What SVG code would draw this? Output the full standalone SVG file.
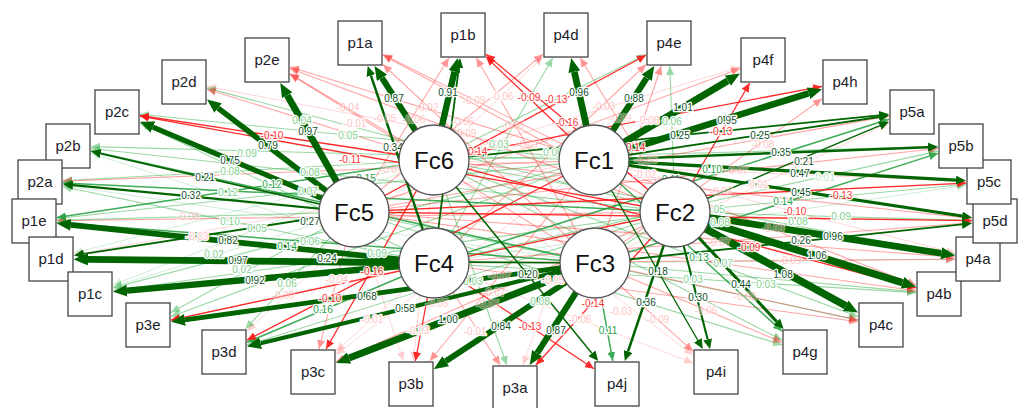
<svg xmlns="http://www.w3.org/2000/svg" width="1018" height="408" viewBox="0 0 1018 408">
<defs>
<marker id="aDk" viewBox="0 -6 14 12" markerWidth="14" markerHeight="12" refX="0" refY="0" orient="auto" markerUnits="userSpaceOnUse"><path d="M0,-6L14,0L0,6z" fill="#006400"/></marker>
<marker id="aDm" viewBox="0 -4.5 10 9" markerWidth="10" markerHeight="9" refX="0" refY="0" orient="auto" markerUnits="userSpaceOnUse"><path d="M0,-4.5L10,0L0,4.5z" fill="#006400"/></marker>
<marker id="aG" viewBox="-9 -4 9 8" markerWidth="9" markerHeight="8" refX="0" refY="0" orient="auto" markerUnits="userSpaceOnUse"><path d="M0,0L-9,-4L-9,4z" fill="#1e9e3a"/></marker>
<marker id="aL" viewBox="-9 -4 9 8" markerWidth="9" markerHeight="8" refX="0" refY="0" orient="auto" markerUnits="userSpaceOnUse"><path d="M0,0L-9,-4L-9,4z" fill="#35b24c"/></marker>
<marker id="aR" viewBox="-9 -4 9 8" markerWidth="9" markerHeight="8" refX="0" refY="0" orient="auto" markerUnits="userSpaceOnUse"><path d="M0,0L-9,-4L-9,4z" fill="#ff1414"/></marker>
</defs>
<style>
line{fill:none}
.tk{stroke:#006400;marker-end:url(#aDk)}
.md{stroke:#006400;marker-end:url(#aDm)}
.g{stroke:#1e9e3a;stroke-width:1.5;opacity:.85;marker-end:url(#aG)}
.lg{stroke:#35b24c;stroke-width:1.1;opacity:.5;marker-end:url(#aL)}
.fg{stroke:#35b24c;stroke-width:1;opacity:.22;marker-end:url(#aL)}
.r{stroke:#ff1414;stroke-width:1.3;opacity:.9;marker-end:url(#aR)}
.p{stroke:#ff3a3a;stroke-width:1.1;opacity:.45;marker-end:url(#aR)}
.fp{stroke:#ff3a3a;stroke-width:1;opacity:.2;marker-end:url(#aR)}
.el text{font-family:"Liberation Sans",Arial,sans-serif;font-size:10px;text-anchor:middle;stroke:#fff;stroke-width:2.6;paint-order:stroke;stroke-linejoin:round}
.el .d{fill:#0f4f2a}
.el .gn{fill:#1f9e45}
.el .l{fill:#7fcf8e}
.el .f{fill:#bfe6c6}
.el .r{fill:#ff2020}
.el .p{fill:#ff8484}
.el .q{fill:#ffc2c2}
.box rect{fill:#fff;stroke:#444;stroke-width:1.3}
.box text{font-family:"Liberation Sans",Arial,sans-serif;font-size:15px;text-anchor:middle;fill:#1c1c28}
.lat circle{fill:#fff;stroke:#555;stroke-width:1.3}
.lat text{font-family:"Liberation Sans",Arial,sans-serif;font-size:24px;text-anchor:middle;fill:#111}
</style>
<rect width="1018" height="408" fill="#fff"/>
<g id="connectors">
<line class="fp" x1="594" y1="160" x2="207" y2="86.4"/>
<line class="fp" x1="434" y1="160" x2="543" y2="56.8"/>
<line class="fp" x1="434" y1="160" x2="740" y2="67"/>
<line class="fp" x1="434" y1="160" x2="966" y2="181.1"/>
<line class="fp" x1="595" y1="263" x2="889" y2="123"/>
<line class="fp" x1="434" y1="160" x2="693" y2="354.7"/>
<line class="fp" x1="434" y1="263" x2="693" y2="363.1"/>
<line class="fp" x1="594" y1="160" x2="955" y2="253.1"/>
<line class="fp" x1="434" y1="160" x2="413.4" y2="361"/>
<line class="fp" x1="594" y1="160" x2="336" y2="354.6"/>
<line class="fp" x1="594" y1="160" x2="523" y2="365"/>
<line class="fp" x1="594" y1="160" x2="74" y2="254.8"/>
<line class="fp" x1="354" y1="212" x2="403.4" y2="361"/>
<line class="fp" x1="434" y1="160" x2="247" y2="331"/>
<line class="fp" x1="434" y1="263" x2="336" y2="351.3"/>
<line class="fg" x1="595" y1="263" x2="63" y2="185.4"/>
<line class="fg" x1="434" y1="263" x2="91" y2="153.4"/>
<line class="fg" x1="434" y1="263" x2="966" y2="185.4"/>
<line class="fg" x1="595" y1="263" x2="955" y2="259.2"/>
<line class="fg" x1="354" y1="212" x2="113" y2="286.9"/>
<line class="fg" x1="434" y1="160" x2="74" y2="253.1"/>
<line class="fg" x1="434" y1="160" x2="113" y2="285"/>
<line class="lg" x1="594" y1="160" x2="91" y2="146.6"/>
<line class="lg" x1="675" y1="212" x2="91" y2="148.5"/>
<line class="lg" x1="434" y1="160" x2="63" y2="180.7"/>
<line class="lg" x1="434" y1="263" x2="140" y2="123"/>
<line class="lg" x1="675" y1="212" x2="207" y2="88.1"/>
<line class="lg" x1="594" y1="160" x2="140" y2="114.3"/>
<line class="lg" x1="434" y1="263" x2="63" y2="186.7"/>
<line class="lg" x1="434" y1="263" x2="552.7" y2="58"/>
<line class="lg" x1="434" y1="160" x2="646" y2="54.5"/>
<line class="lg" x1="675" y1="212" x2="669.8" y2="66"/>
<line class="lg" x1="434" y1="160" x2="938" y2="146.6"/>
<line class="lg" x1="675" y1="212" x2="966" y2="184.2"/>
<line class="lg" x1="675" y1="212" x2="972" y2="220.4"/>
<line class="lg" x1="434" y1="160" x2="955" y2="254.8"/>
<line class="lg" x1="434" y1="160" x2="858" y2="316.5"/>
<line class="lg" x1="354" y1="212" x2="858" y2="320.1"/>
<line class="lg" x1="434" y1="263" x2="916" y2="292.6"/>
<line class="lg" x1="434" y1="263" x2="938" y2="151.1"/>
<line class="lg" x1="354" y1="212" x2="782" y2="344.9"/>
<line class="lg" x1="434" y1="160" x2="782" y2="340.1"/>
<line class="lg" x1="595" y1="263" x2="916" y2="291.9"/>
<line class="lg" x1="434" y1="160" x2="506.8" y2="365"/>
<line class="lg" x1="675" y1="212" x2="434" y2="369"/>
<line class="lg" x1="675" y1="212" x2="247" y2="344.9"/>
<line class="lg" x1="594" y1="160" x2="171" y2="316.5"/>
<line class="lg" x1="354" y1="212" x2="171" y2="312.4"/>
<line class="lg" x1="354" y1="212" x2="57" y2="220.4"/>
<line class="lg" x1="594" y1="160" x2="113" y2="287.9"/>
<line class="lg" x1="594" y1="160" x2="57" y2="218.5"/>
<line class="lg" x1="354" y1="212" x2="245.4" y2="329"/>
<line class="lg" x1="675" y1="212" x2="113" y2="290.8"/>
<line class="p" x1="594" y1="160" x2="63" y2="181.1"/>
<line class="p" x1="595" y1="263" x2="290" y2="74.2"/>
<line class="p" x1="675" y1="212" x2="290" y2="68.6"/>
<line class="p" x1="594" y1="160" x2="290" y2="67"/>
<line class="p" x1="434" y1="160" x2="207" y2="89.2"/>
<line class="p" x1="434" y1="160" x2="290" y2="73.8"/>
<line class="p" x1="595" y1="263" x2="383" y2="64.5"/>
<line class="p" x1="594" y1="160" x2="383" y2="54.5"/>
<line class="p" x1="675" y1="212" x2="383" y2="55.3"/>
<line class="p" x1="595" y1="263" x2="476.3" y2="58"/>
<line class="p" x1="354" y1="212" x2="448.8" y2="58"/>
<line class="p" x1="354" y1="212" x2="543" y2="54.2"/>
<line class="p" x1="675" y1="212" x2="580.2" y2="58"/>
<line class="p" x1="434" y1="263" x2="646" y2="64.5"/>
<line class="p" x1="595" y1="263" x2="661.3" y2="66"/>
<line class="p" x1="354" y1="212" x2="740" y2="68.5"/>
<line class="p" x1="595" y1="263" x2="822" y2="98.7"/>
<line class="p" x1="354" y1="212" x2="889" y2="116.1"/>
<line class="p" x1="354" y1="212" x2="938" y2="148.5"/>
<line class="p" x1="434" y1="160" x2="972" y2="218.5"/>
<line class="p" x1="434" y1="263" x2="972" y2="222.7"/>
<line class="p" x1="354" y1="212" x2="955" y2="257.3"/>
<line class="p" x1="434" y1="263" x2="955" y2="259.2"/>
<line class="p" x1="434" y1="263" x2="858" y2="321.8"/>
<line class="p" x1="595" y1="263" x2="782" y2="342.3"/>
<line class="p" x1="595" y1="263" x2="693" y2="351.3"/>
<line class="p" x1="354" y1="212" x2="916" y2="290.8"/>
<line class="p" x1="594" y1="160" x2="916" y2="285.1"/>
<line class="p" x1="595" y1="263" x2="858" y2="320"/>
<line class="p" x1="675" y1="212" x2="336" y2="361.8"/>
<line class="p" x1="434" y1="263" x2="171" y2="320"/>
<line class="p" x1="675" y1="212" x2="57" y2="220.7"/>
<line class="p" x1="354" y1="212" x2="318.9" y2="349"/>
<line class="p" x1="434" y1="263" x2="500.1" y2="365"/>
<line class="p" x1="594" y1="160" x2="429.8" y2="361"/>
<line class="g" x1="595" y1="263" x2="91" y2="151.1"/>
<line class="g" x1="675" y1="212" x2="63" y2="183.1"/>
<line class="g" x1="434" y1="263" x2="889" y2="119.3"/>
<line class="g" x1="595" y1="263" x2="938" y2="153.4"/>
<line class="g" x1="594" y1="160" x2="782" y2="331.1"/>
<line class="g" x1="434" y1="263" x2="247" y2="342.3"/>
<line class="g" x1="595" y1="263" x2="57" y2="222.7"/>
<line class="g" x1="595" y1="263" x2="612.8" y2="361"/>
<line class="g" x1="434" y1="160" x2="57" y2="217.5"/>
<line class="r" x1="434" y1="160" x2="140" y2="115.5"/>
<line class="r" x1="675" y1="212" x2="140" y2="116.1"/>
<line class="r" x1="594" y1="160" x2="486" y2="56.9"/>
<line class="r" x1="675" y1="212" x2="486" y2="54.2"/>
<line class="r" x1="354" y1="212" x2="646" y2="55.3"/>
<line class="r" x1="675" y1="212" x2="749.7" y2="83"/>
<line class="r" x1="434" y1="160" x2="822" y2="86.4"/>
<line class="r" x1="354" y1="212" x2="966" y2="183.1"/>
<line class="r" x1="354" y1="212" x2="972" y2="220.7"/>
<line class="r" x1="434" y1="160" x2="916" y2="287.9"/>
<line class="r" x1="675" y1="212" x2="535.9" y2="365"/>
<line class="r" x1="434" y1="263" x2="594" y2="368.8"/>
<line class="r" x1="434" y1="263" x2="415.4" y2="361"/>
<line class="r" x1="675" y1="212" x2="171" y2="320.1"/>
<line class="r" x1="594" y1="160" x2="247" y2="340.1"/>
<line class="r" x1="434" y1="160" x2="326.1" y2="349"/>
<line class="md" stroke-width="1.6" x1="354" y1="212" x2="100.7" y2="153.6"/>
<line class="md" stroke-width="2.2" x1="354" y1="212" x2="73" y2="185.2"/>
<line class="md" stroke-width="1.5" x1="434" y1="160" x2="591.9" y2="353.3"/>
<line class="md" stroke-width="1.8" x1="594" y1="160" x2="879.1" y2="117"/>
<line class="md" stroke-width="2.5" x1="594" y1="160" x2="928" y2="147.3"/>
<line class="md" stroke-width="3.3" x1="594" y1="160" x2="956" y2="180.1"/>
<line class="md" stroke-width="3.2" x1="594" y1="160" x2="962.1" y2="216"/>
<line class="md" stroke-width="1.5" x1="675" y1="212" x2="879.8" y2="125.6"/>
<line class="md" stroke-width="3.1" x1="675" y1="212" x2="776.8" y2="321.7"/>
<line class="md" stroke-width="2.1" x1="675" y1="212" x2="707.6" y2="339.3"/>
<line class="md" stroke-width="2.5" x1="675" y1="212" x2="628" y2="351.5"/>
<line class="md" stroke-width="2.4" x1="434" y1="263" x2="370.9" y2="75.5"/>
<line class="md" stroke-width="1.8" x1="434" y1="263" x2="458.8" y2="67.9"/>
<line class="md" stroke-width="1.8" x1="595" y1="263" x2="962" y2="224.4"/>
<line class="md" stroke-width="1.7" x1="595" y1="263" x2="84" y2="259.3"/>
<line class="md" stroke-width="1.3" x1="594" y1="160" x2="697.8" y2="340.3"/>
<line class="md" stroke-width="1.9" x1="354" y1="212" x2="83.9" y2="253.9"/>
<line class="md" stroke-width="1.8" x1="434" y1="160" x2="879" y2="115.3"/>
<line class="tk" stroke-width="6.8" x1="354" y1="212" x2="287.2" y2="95.2"/>
<line class="tk" stroke-width="5.5" x1="354" y1="212" x2="218.1" y2="108.1"/>
<line class="tk" stroke-width="5.2" x1="354" y1="212" x2="152.9" y2="127.1"/>
<line class="tk" stroke-width="6.1" x1="434" y1="160" x2="382" y2="77.8"/>
<line class="tk" stroke-width="6.4" x1="434" y1="160" x2="454.5" y2="71.6"/>
<line class="tk" stroke-width="6.7" x1="594" y1="160" x2="574.3" y2="71.7"/>
<line class="tk" stroke-width="6.2" x1="594" y1="160" x2="646.7" y2="77.8"/>
<line class="tk" stroke-width="7" x1="594" y1="160" x2="727.9" y2="80.7"/>
<line class="tk" stroke-width="6.6" x1="594" y1="160" x2="808.6" y2="93.3"/>
<line class="tk" stroke-width="6.7" x1="675" y1="212" x2="941.2" y2="253.3"/>
<line class="tk" stroke-width="7.4" x1="675" y1="212" x2="902.6" y2="282.7"/>
<line class="tk" stroke-width="7.5" x1="675" y1="212" x2="845.7" y2="305.7"/>
<line class="tk" stroke-width="5.7" x1="434" y1="263" x2="70.9" y2="224.9"/>
<line class="tk" stroke-width="6.8" x1="434" y1="263" x2="88" y2="259.4"/>
<line class="tk" stroke-width="6.4" x1="434" y1="263" x2="127" y2="290.6"/>
<line class="tk" stroke-width="4.8" x1="595" y1="263" x2="184.9" y2="319.9"/>
<line class="tk" stroke-width="4.1" x1="595" y1="263" x2="260.6" y2="343.2"/>
<line class="tk" stroke-width="7" x1="595" y1="263" x2="349.1" y2="358"/>
<line class="tk" stroke-width="5.9" x1="595" y1="263" x2="445.7" y2="361.2"/>
<line class="tk" stroke-width="6.1" x1="595" y1="263" x2="537.2" y2="353.2"/>
</g>
<g id="edge-labels" class="el">
<text class="q" x="355" y="126.5">-0.01</text>
<text class="q" x="502" y="99.5">-0.06</text>
<text class="q" x="648" y="123.5">-0.06</text>
<text class="q" x="645" y="177.5">-0.02</text>
<text class="q" x="757" y="187.5">-0.01</text>
<text class="q" x="621" y="314.5">-0.03</text>
<text class="q" x="580" y="322.5">-0.06</text>
<text class="q" x="418" y="333.5">-0.03</text>
<text class="q" x="372" y="322.5">-0.01</text>
<text class="q" x="553" y="283.5">-0.05</text>
<text class="q" x="197" y="239.5">-0.03</text>
<text class="q" x="337" y="282.5">-0.04</text>
<text class="q" x="475" y="334.5">-0.01</text>
<text class="f" x="825" y="180.5">0.01</text>
<text class="l" x="302" y="123.5">0.04</text>
<text class="l" x="247" y="156.5">0.09</text>
<text class="l" x="230" y="174.5">0.08</text>
<text class="l" x="310" y="175.5">0.08</text>
<text class="l" x="228" y="195.5">0.12</text>
<text class="l" x="308" y="194.5">0.07</text>
<text class="l" x="348" y="138.5">0.05</text>
<text class="l" x="499" y="147.5">0.03</text>
<text class="l" x="553" y="155.5">0.06</text>
<text class="l" x="672" y="124.5">0.06</text>
<text class="l" x="715" y="212.5">0.05</text>
<text class="l" x="720" y="225.5">0.08</text>
<text class="l" x="798" y="224.5">0.08</text>
<text class="l" x="841" y="219.5">0.09</text>
<text class="l" x="723" y="266.5">0.07</text>
<text class="l" x="693" y="282.5">0.03</text>
<text class="l" x="766" y="287.5">0.03</text>
<text class="l" x="377" y="256.5">0.09</text>
<text class="l" x="473" y="284.5">0.03</text>
<text class="l" x="540" y="304.5">0.08</text>
<text class="l" x="287" y="286.5">0.06</text>
<text class="l" x="230" y="224.5">0.10</text>
<text class="l" x="257" y="231.5">0.05</text>
<text class="l" x="310" y="244.5">0.06</text>
<text class="l" x="242" y="272.5">0.02</text>
<text class="l" x="214" y="257.5">0.02</text>
<text class="p" x="348" y="110.5">-0.04</text>
<text class="p" x="427" y="110.5">-0.02</text>
<text class="p" x="385" y="121.5">-0.05</text>
<text class="p" x="414" y="122.5">-0.06</text>
<text class="p" x="474" y="103.5">-0.09</text>
<text class="p" x="513" y="128.5">-0.08</text>
<text class="p" x="463" y="124.5">-0.05</text>
<text class="p" x="465" y="136.5">-0.09</text>
<text class="p" x="528" y="147.5">-0.07</text>
<text class="p" x="391" y="172.5">-0.07</text>
<text class="p" x="604" y="109.5">-0.03</text>
<text class="p" x="620" y="121.5">-0.09</text>
<text class="p" x="646" y="162.5">-0.08</text>
<text class="p" x="763" y="147.5">-0.08</text>
<text class="p" x="737" y="173.5">-0.07</text>
<text class="p" x="721" y="194.5">-0.07</text>
<text class="p" x="773" y="231.5">-0.09</text>
<text class="p" x="719" y="245.5">-0.07</text>
<text class="p" x="790" y="263.5">-0.09</text>
<text class="p" x="745" y="299.5">-0.02</text>
<text class="p" x="706" y="313.5">-0.06</text>
<text class="p" x="658" y="322.5">-0.09</text>
<text class="p" x="188" y="219.5">-0.08</text>
<text class="p" x="283" y="298.5">-0.08</text>
<text class="p" x="500" y="278.5">-0.07</text>
<text class="p" x="494" y="295.5">-0.07</text>
<text class="p" x="488" y="307.5">-0.05</text>
<text class="p" x="437" y="306.5">-0.05</text>
<text class="r" x="272" y="138.5">-0.10</text>
<text class="r" x="350" y="162.5">-0.11</text>
<text class="r" x="567" y="125.5">-0.16</text>
<text class="r" x="556" y="102.5">-0.13</text>
<text class="r" x="529" y="100.5">-0.09</text>
<text class="r" x="476" y="154.5">-0.14</text>
<text class="r" x="634" y="150.5">-0.14</text>
<text class="r" x="721" y="134.5">-0.13</text>
<text class="r" x="841" y="198.5">-0.13</text>
<text class="r" x="795" y="214.5">-0.10</text>
<text class="r" x="749" y="250.5">-0.09</text>
<text class="r" x="372" y="274.5">-0.16</text>
<text class="r" x="330" y="301.5">-0.10</text>
<text class="r" x="593" y="306.5">-0.14</text>
<text class="r" x="530" y="329.5">-0.13</text>
<text class="gn" x="272" y="187.5">0.12</text>
<text class="gn" x="287" y="249.5">0.14</text>
<text class="gn" x="323" y="312.5">0.16</text>
<text class="gn" x="783" y="204.5">0.14</text>
<text class="gn" x="699" y="260.5">0.13</text>
<text class="gn" x="712" y="172.5">0.10</text>
<text class="gn" x="366" y="181.5">0.15</text>
<text class="gn" x="608" y="333.5">0.11</text>
<text class="gn" x="671" y="182.5">0.11</text>
<text class="d" x="308" y="134.5">0.97</text>
<text class="d" x="268" y="148.5">0.79</text>
<text class="d" x="230" y="163.5">0.75</text>
<text class="d" x="205" y="180.5">0.21</text>
<text class="d" x="191" y="198.5">0.32</text>
<text class="d" x="394" y="101.5">0.87</text>
<text class="d" x="448" y="95.5">0.91</text>
<text class="d" x="579" y="95.5">0.96</text>
<text class="d" x="634" y="101.5">0.88</text>
<text class="d" x="683" y="110.5">1.01</text>
<text class="d" x="727" y="123.5">0.95</text>
<text class="d" x="680" y="138.5">0.25</text>
<text class="d" x="760" y="138.5">0.25</text>
<text class="d" x="781" y="155.5">0.35</text>
<text class="d" x="804" y="164.5">0.21</text>
<text class="d" x="800" y="176.5">0.47</text>
<text class="d" x="801" y="195.5">0.45</text>
<text class="d" x="833" y="239.5">0.96</text>
<text class="d" x="801" y="243.5">0.26</text>
<text class="d" x="817" y="258.5">1.06</text>
<text class="d" x="783" y="277.5">1.08</text>
<text class="d" x="741" y="287.5">0.44</text>
<text class="d" x="698" y="300.5">0.30</text>
<text class="d" x="646" y="305.5">0.36</text>
<text class="d" x="658" y="274.5">0.18</text>
<text class="d" x="528" y="277.5">0.20</text>
<text class="d" x="556" y="333.5">0.87</text>
<text class="d" x="501" y="329.5">0.84</text>
<text class="d" x="448" y="322.5">1.00</text>
<text class="d" x="405" y="311.5">0.58</text>
<text class="d" x="367" y="299.5">0.68</text>
<text class="d" x="255" y="283.5">0.92</text>
<text class="d" x="238" y="263.5">0.97</text>
<text class="d" x="327" y="261.5">0.24</text>
<text class="d" x="228" y="243.5">0.82</text>
<text class="d" x="310" y="224.5">0.27</text>
<text class="d" x="393" y="150.5">0.34</text>
</g>
<g id="node-p2e" class="box"><rect x="245" y="38" width="44" height="44"/><text x="267" y="65">p2e</text></g>
<g id="node-p2d" class="box"><rect x="162" y="60" width="44" height="44"/><text x="184" y="87">p2d</text></g>
<g id="node-p2c" class="box"><rect x="95" y="90" width="44" height="44"/><text x="117" y="117">p2c</text></g>
<g id="node-p2b" class="box"><rect x="46" y="124" width="44" height="44"/><text x="68" y="151">p2b</text></g>
<g id="node-p2a" class="box"><rect x="18" y="160" width="44" height="44"/><text x="40" y="187">p2a</text></g>
<g id="node-p1e" class="box"><rect x="12" y="199" width="44" height="44"/><text x="34" y="226">p1e</text></g>
<g id="node-p1d" class="box"><rect x="29" y="237" width="44" height="44"/><text x="51" y="264">p1d</text></g>
<g id="node-p1c" class="box"><rect x="68" y="272" width="44" height="44"/><text x="90" y="299">p1c</text></g>
<g id="node-p3e" class="box"><rect x="126" y="303" width="44" height="44"/><text x="148" y="330">p3e</text></g>
<g id="node-p3d" class="box"><rect x="202" y="330" width="44" height="44"/><text x="224" y="357">p3d</text></g>
<g id="node-p3c" class="box"><rect x="291" y="350" width="44" height="44"/><text x="313" y="377">p3c</text></g>
<g id="node-p3b" class="box"><rect x="389" y="362" width="44" height="44"/><text x="411" y="389">p3b</text></g>
<g id="node-p3a" class="box"><rect x="493" y="366" width="44" height="44"/><text x="515" y="393">p3a</text></g>
<g id="node-p4j" class="box"><rect x="595" y="362" width="44" height="44"/><text x="617" y="389">p4j</text></g>
<g id="node-p4i" class="box"><rect x="694" y="350" width="44" height="44"/><text x="716" y="377">p4i</text></g>
<g id="node-p4g" class="box"><rect x="783" y="330" width="44" height="44"/><text x="805" y="357">p4g</text></g>
<g id="node-p4c" class="box"><rect x="859" y="303" width="44" height="44"/><text x="881" y="330">p4c</text></g>
<g id="node-p4b" class="box"><rect x="917" y="272" width="44" height="44"/><text x="939" y="299">p4b</text></g>
<g id="node-p4a" class="box"><rect x="956" y="237" width="44" height="44"/><text x="978" y="264">p4a</text></g>
<g id="node-p5d" class="box"><rect x="973" y="199" width="44" height="44"/><text x="995" y="226">p5d</text></g>
<g id="node-p5c" class="box"><rect x="967" y="160" width="44" height="44"/><text x="989" y="187">p5c</text></g>
<g id="node-p5b" class="box"><rect x="939" y="124" width="44" height="44"/><text x="961" y="151">p5b</text></g>
<g id="node-p5a" class="box"><rect x="890" y="90" width="44" height="44"/><text x="912" y="117">p5a</text></g>
<g id="node-p4h" class="box"><rect x="823" y="60" width="44" height="44"/><text x="845" y="87">p4h</text></g>
<g id="node-p4f" class="box"><rect x="741" y="38" width="44" height="44"/><text x="763" y="65">p4f</text></g>
<g id="node-p4e" class="box"><rect x="647" y="21" width="44" height="44"/><text x="669" y="48">p4e</text></g>
<g id="node-p4d" class="box"><rect x="544" y="13" width="44" height="44"/><text x="566" y="40">p4d</text></g>
<g id="node-p1b" class="box"><rect x="441" y="13" width="44" height="44"/><text x="463" y="40">p1b</text></g>
<g id="node-p1a" class="box"><rect x="338" y="21" width="44" height="44"/><text x="360" y="48">p1a</text></g>
<g id="node-Fc6" class="lat"><circle cx="434" cy="160" r="35"/><text x="434" y="168.5">Fc6</text></g>
<g id="node-Fc1" class="lat"><circle cx="594" cy="160" r="35"/><text x="594" y="168.5">Fc1</text></g>
<g id="node-Fc5" class="lat"><circle cx="354" cy="212" r="35"/><text x="354" y="220.5">Fc5</text></g>
<g id="node-Fc2" class="lat"><circle cx="675" cy="212" r="35"/><text x="675" y="220.5">Fc2</text></g>
<g id="node-Fc4" class="lat"><circle cx="434" cy="263" r="35"/><text x="434" y="271.5">Fc4</text></g>
<g id="node-Fc3" class="lat"><circle cx="595" cy="263" r="35"/><text x="595" y="271.5">Fc3</text></g>
</svg>
